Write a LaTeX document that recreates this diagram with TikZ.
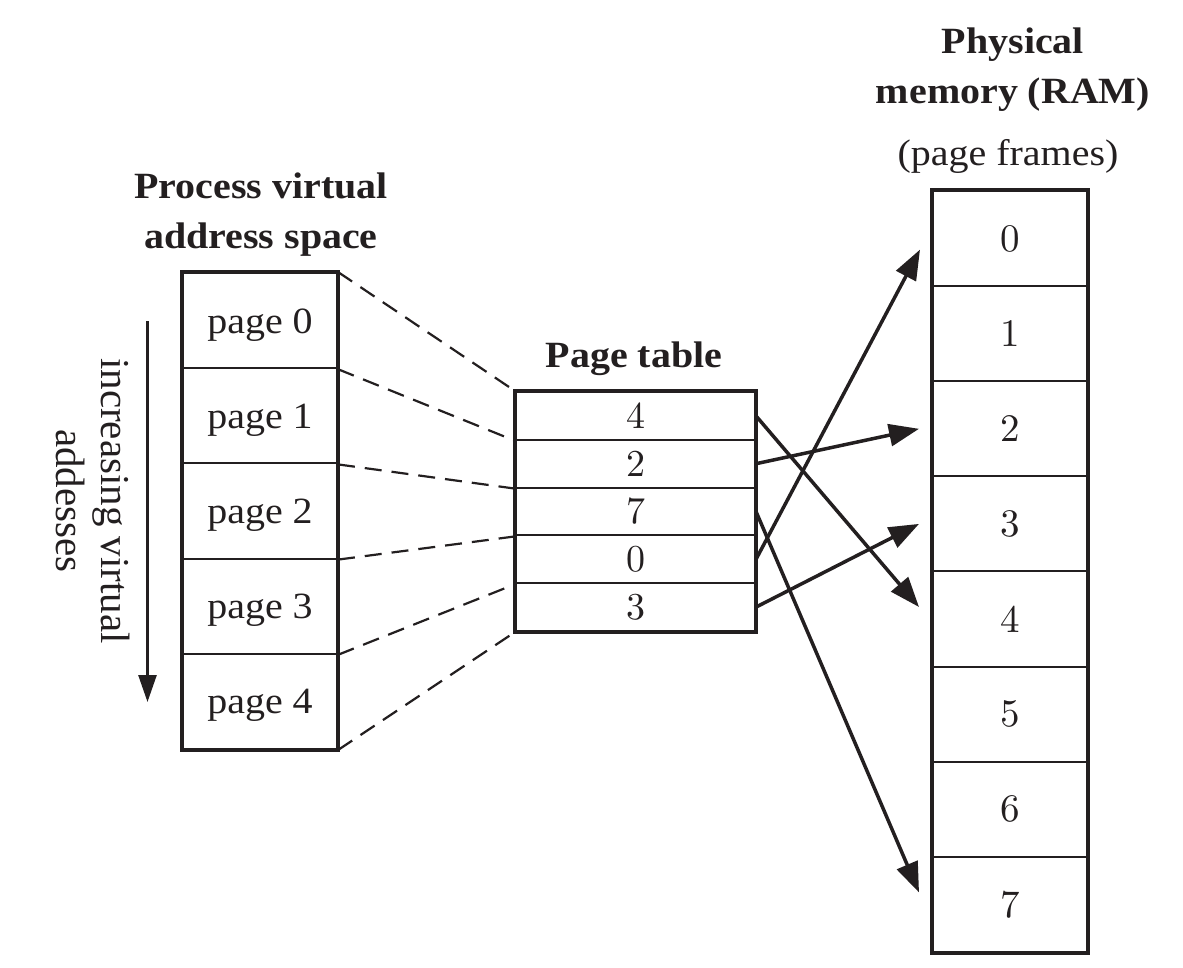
\documentclass[tikz,border=0pt]{standalone}
\usepackage{fontspec}
\setmainfont{Liberation Serif}[FakeStretch=1.08]
\newfontfamily\timesfont{Liberation Serif}
\newfontfamily\digitfont{lmroman10-regular.otf}
\usetikzlibrary{arrows.meta}
\definecolor{ink}{RGB}{35,31,32}
\tikzset{
  vrow/.style={draw=ink, line width=2pt, minimum width=154pt, minimum height=95.2pt, inner sep=0pt,
    text height=24.8pt, text depth=0pt, font=\fontsize{37}{44}\selectfont, text=ink},
  ptrow/.style={draw=ink, line width=2pt, minimum width=239pt, minimum height=47.8pt, inner sep=0pt,
    font=\digitfont\fontsize{38}{44}\selectfont, text=ink},
  frow/.style={draw=ink, line width=2pt, minimum width=154pt, minimum height=95.125pt, inner sep=0pt,
    font=\digitfont\fontsize{39}{44}\selectfont, text=ink},
  outerbox/.style={draw=ink, line width=4.5pt},
  titletext/.style={font=\bfseries\fontsize{37}{50}\selectfont, text=ink, align=center, inner sep=0pt},
  plaintext/.style={font=\fontsize{37}{50}\selectfont, text=ink, align=center, inner sep=0pt},
  mapline/.style={draw=ink, line width=2.2pt, dash pattern=on 17pt off 10pt},
  ptr/.style={draw=ink, line width=3.5pt, -{Triangle[length=30pt,width=22pt]}},
}
\begin{document}
\begin{tikzpicture}[x=1pt,y=1pt]
\useasboundingbox (0,0) rectangle (1183,-967);

% titles
\node[titletext] (vtitle) at (261,-214.5) {Process virtual\\address space};
\node[titletext] (ptitle) at (1013,-69.5) {Physical\\memory (RAM)};
\node[plaintext, anchor=base] (pframes) at (1008,-165) {(page frames)};
\node[titletext, anchor=base] (pttitle) at (634,-367) {Page table};

% virtual address space
\node[vrow] (v0) at (260,-320.6) {page 0};
\node[vrow] (v1) at (260,-415.8) {page 1};
\node[vrow] (v2) at (260,-511.0) {page 2};
\node[vrow] (v3) at (260,-606.2) {page 3};
\node[vrow] (v4) at (260,-701.4) {page 4};
\draw[outerbox] (v0.north west) rectangle (v4.south east);

% page table
\node[ptrow] (p0) at (635.5,-415.9) {4};
\node[ptrow] (p1) at (635.5,-463.7) {2};
\node[ptrow] (p2) at (635.5,-511.5) {7};
\node[ptrow] (p3) at (635.5,-559.3) {0};
\node[ptrow] (p4) at (635.5,-607.1) {3};
\draw[outerbox] (p0.north west) rectangle (p4.south east);

% physical memory
\node[frow] (f0) at (1010,-238.6) {0};
\node[frow] (f1) at (1010,-333.7) {1};
\node[frow] (f2) at (1010,-428.8) {2};
\node[frow] (f3) at (1010,-523.9) {3};
\node[frow] (f4) at (1010,-619.0) {4};
\node[frow] (f5) at (1010,-714.2) {5};
\node[frow] (f6) at (1010,-809.3) {6};
\node[frow] (f7) at (1010,-904.4) {7};
\draw[outerbox] (f0.north west) rectangle (f7.south east);

% increasing addresses
\coordinate (atop) at (147.5,-321);
\coordinate (abot) at (147.5,-702);
\draw[draw=ink, line width=2.6pt, -{Triangle[length=27pt,width=18pt]}] (atop) -- (abot);
\node[font=\timesfont\fontsize{41}{45}\selectfont, text=ink, align=center, rotate=-90, inner sep=0pt]
  (incr) at (93,-501) {increasing virtual\\addesses};

% dashed mapping lines
\draw[mapline] (v0.north east) -- (p0.north west);
\draw[mapline] (v0.south east) -- (p0.south west);
\draw[mapline] (v1.south east) -- (p1.south west);
\draw[mapline] (v2.south east) -- (p2.south west);
\draw[mapline] (v3.south east) -- (p3.south west);
\draw[mapline] (v4.south east) -- (p4.south west);

% pointers to frames
\draw[ptr] (p0.east) -- ([xshift=-13pt,yshift=12pt]f4.west);
\draw[ptr] (p1.east) -- ([xshift=-13pt]f2.west);
\draw[ptr] (p2.east) -- ([xshift=-13pt,yshift=12pt]f7.west);
\draw[ptr] (p3.east) -- ([xshift=-12pt,yshift=-11pt]f0.west);
\draw[ptr] (p4.east) -- ([xshift=-13pt]f3.west);
\end{tikzpicture}
\end{document}
